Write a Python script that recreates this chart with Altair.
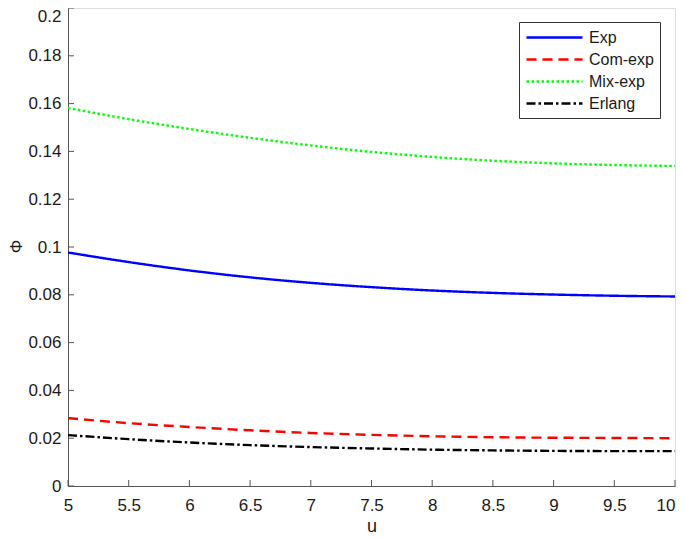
import altair as alt
import pandas as pd

u = [5, 5.5, 6, 6.5, 7, 7.5, 8, 8.5, 9, 9.5, 10]
exp_vals = [0.0977, 0.0937, 0.0902, 0.0873, 0.0850, 0.0832, 0.0818, 0.0808, 0.0801, 0.0796, 0.0793]
comexp_vals = [0.0284, 0.0263, 0.0247, 0.0233, 0.0222, 0.0214, 0.0208, 0.0204, 0.0202, 0.0201, 0.0200]
mixexp_vals = [0.1582, 0.1535, 0.1494, 0.1457, 0.1425, 0.1398, 0.1377, 0.1361, 0.1350, 0.1343, 0.1339]
erlang_vals = [0.0213, 0.0196, 0.0182, 0.0171, 0.0163, 0.0157, 0.0152, 0.0149, 0.0147, 0.0146, 0.0146]

series_names = ["Exp", "Com-exp", "Mix-exp", "Erlang"]
series_colors = ["#0000ff", "#ff0000", "#00ff00", "#000000"]
series_dash = [[1, 0], [10, 6], [2.5, 2.5], [9, 3, 2.5, 3]]

x_ticks = [5, 5.5, 6, 6.5, 7, 7.5, 8, 8.5, 9, 9.5, 10]
y_ticks = [0, 0.02, 0.04, 0.06, 0.08, 0.1, 0.12, 0.14, 0.16, 0.18, 0.2]

rows = []
for name, vals in zip(series_names, [exp_vals, comexp_vals, mixexp_vals, erlang_vals]):
    for uu, v in zip(u, vals):
        rows.append({"u": uu, "phi": v, "series": name})
df = pd.DataFrame(rows)

W, H = 607, 478
FONT = "Liberation Sans"
AX = "#555555"
TXT = "#1a1a1a"

xscale = alt.Scale(domain=[5, 10], nice=False, zero=False)
yscale = alt.Scale(domain=[0, 0.2], nice=False)

lines = alt.Chart(df).mark_line(strokeWidth=2.4, interpolate="monotone").encode(
    x=alt.X("u:Q", scale=xscale,
            axis=alt.Axis(title="u", values=x_ticks, format="~g", tickSize=0, labelPadding=11,
                          grid=False, domainColor=AX, labelFontSize=17,
                          labelAlign={"condition": {"test": "datum.value >= 10", "value": "right"},
                                      "value": "center"},
                          titleFontSize=18, titleFontWeight="normal", titlePadding=4,
                          labelColor=TXT, titleColor=TXT, labelFlush=False)),
    y=alt.Y("phi:Q", scale=yscale,
            axis=alt.Axis(title="Φ", values=y_ticks, format="~g", tickSize=0, labelPadding=7,
                          grid=False, domainColor=AX, labelFontSize=17,
                          labelBaseline={"condition": {"test": "datum.value >= 0.2", "value": "top"},
                                         "value": "middle"},
                          titleFontSize=17, titleFontWeight="normal",
                          titleX=-60, titleY=238, titleAngle=270, titleAlign="center",
                          titleBaseline="top",
                          labelColor=TXT, titleColor=TXT, labelFlush=False)),
    color=alt.Color("series:N",
                    scale=alt.Scale(domain=series_names, range=series_colors),
                    legend=alt.Legend(title=None, orient="none", legendX=451, legendY=14,
                                      symbolType="M-1,0H6", symbolSize=256,
                                      symbolStrokeWidth=2.4, labelFontSize=16,
                                      labelColor=TXT, rowPadding=4,
                                      strokeColor="#333333", padding=6,
                                      fillColor="white", labelOffset=45)),
    strokeDash=alt.StrokeDash("series:N",
                              scale=alt.Scale(domain=series_names, range=series_dash),
                              legend=None),
    order=alt.Order("u:Q"),
)

xt = pd.DataFrame({"t": x_ticks})
yt = pd.DataFrame({"t": y_ticks})

xticks = alt.Chart(xt).mark_rule(color=AX, strokeWidth=1).encode(
    x=alt.X("t:Q", scale=xscale),
    y=alt.value(H), y2=alt.value(H - 6),
)
yticks = alt.Chart(yt).mark_rule(color=AX, strokeWidth=1).encode(
    y=alt.Y("t:Q", scale=yscale),
    x=alt.value(0), x2=alt.value(6),
)

chart = alt.layer(xticks, yticks, lines).properties(
    width=W, height=H,
    padding={"left": 60, "top": 0, "right": 2, "bottom": 52},
    autosize=alt.AutoSizeParams(type="none"),
).configure_view(stroke=None).configure(font=FONT)

chart.save("out.html", embed_options={"renderer": "svg", "actions": False})
